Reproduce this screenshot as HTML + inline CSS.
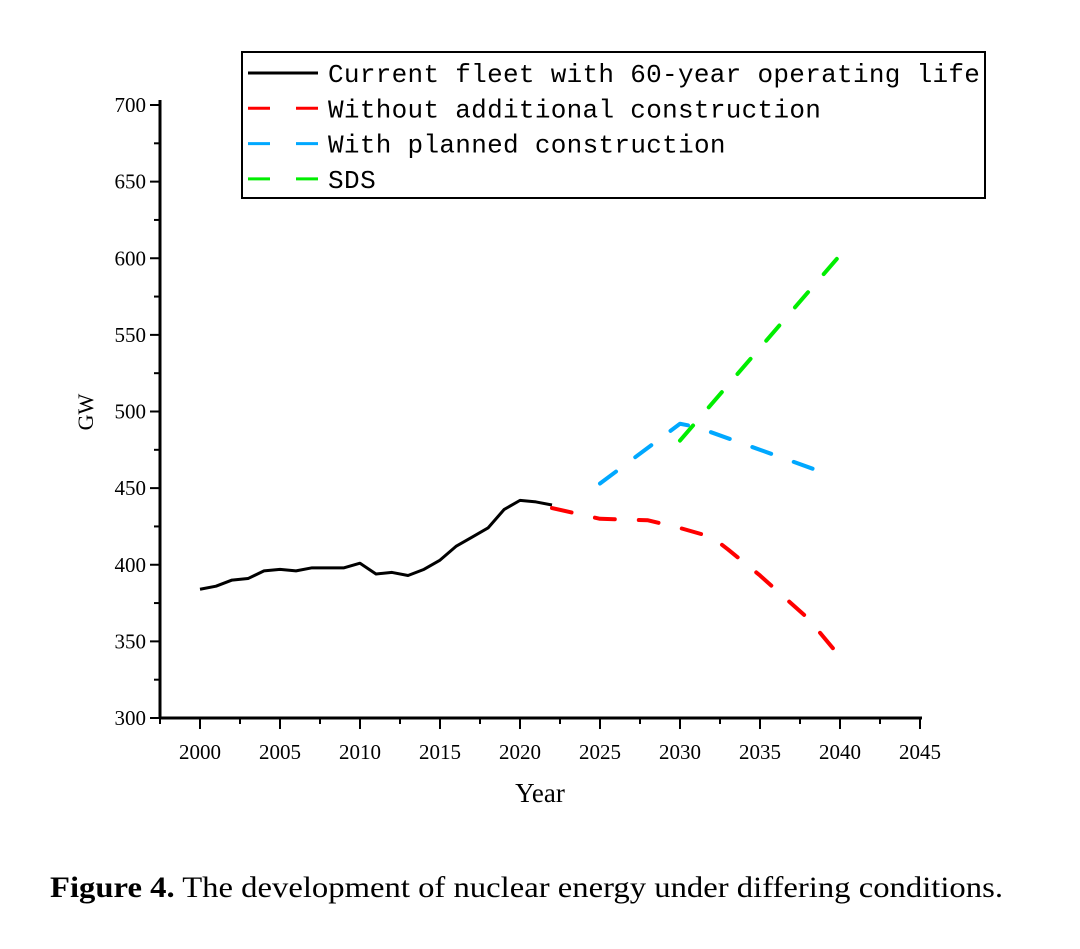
<!DOCTYPE html>
<html><head><meta charset="utf-8"><style>
body{margin:0;background:#fff;width:1080px;height:944px;overflow:hidden}
svg text{font-family:"Liberation Serif",serif}
</style></head><body>
<svg width="1080" height="944">
<g id="axes"></g>
<g id="marks"></g>
<rect x="242" y="52" width="743" height="146" fill="none" stroke="#000" stroke-width="2"/>
<g id="legend"></g>
<text x="93" y="412" font-size="22" text-anchor="middle" transform="rotate(-90 93 412)">GW</text>
<text x="540" y="802" font-size="27" text-anchor="middle">Year</text>
<text x="50" y="897" font-size="30" textLength="953" lengthAdjust="spacingAndGlyphs"><tspan font-weight="bold">Figure 4.</tspan> The development of nuclear energy under differing conditions.</text>
</svg>
<script>
const xTicks=[2000,2005,2010,2015,2020,2025,2030,2035,2040,2045];
const yTicks=[300,350,400,450,500,550,600,650,700];
const fleetYears=[2000,2001,2002,2003,2004,2005,2006,2007,2008,2009,2010,2011,2012,2013,2014,2015,2016,2017,2018,2019,2020,2021,2022];
const fleetValues=[384,386,390,391,396,397,396,398,398,398,401,394,395,393,397,403,412,418,424,436,442,441,439];
const noBuildYears=[2022,2025,2028,2030,2032,2033,2035,2038,2040];
const noBuildValues=[437,430,429,424,418,410,393,365,340];
const plannedYears=[2025,2030,2031,2039];
const plannedValues=[453,492,490,460];
const sdsYears=[2030,2040];
const sdsValues=[481,602];
const seriesNames=["Current fleet with 60-year operating life","Without additional construction","With planned construction","SDS"];
const seriesColors=["#000","#ff0000","#00a8ff","#00ee00"];
const NS="http://www.w3.org/2000/svg";
const X=v=>200+(v-2000)*16;
const Y=v=>718-(v-300)*1.5325;
function mk(t,a,p){const e=document.createElementNS(NS,t);for(const k in a)e.setAttribute(k,a[k]);p.appendChild(e);return e;}
const ax=document.getElementById('axes');
let l=mk('line',{x1:160,y1:100,x2:160,y2:719,stroke:'#000','stroke-width':3},ax);


l=mk('line',{x1:159,y1:718,x2:922,y2:718,stroke:'#000','stroke-width':3},ax);


yTicks.forEach(v=>{
 mk('line',{x1:150,y1:Y(v),x2:160,y2:Y(v),stroke:'#000','stroke-width':2},ax);
 if(v<700) mk('line',{x1:154,y1:Y(v+25),x2:160,y2:Y(v+25),stroke:'#000','stroke-width':2},ax);
 const t=mk('text',{x:146,y:Y(v)+7,'font-size':21,'text-anchor':'end'},ax);t.textContent=v;
 
 
});
xTicks.forEach(v=>{
 mk('line',{x1:X(v),y1:718,x2:X(v),y2:729,stroke:'#000','stroke-width':2},ax);
 mk('line',{x1:X(v)-40,y1:718,x2:X(v)-40,y2:724,stroke:'#000','stroke-width':2},ax);
 const t=mk('text',{x:X(v),y:759,'font-size':21,'text-anchor':'middle'},ax);t.textContent=v;
 
 
});
const mg=document.getElementById('marks');
function line(xs,ys,c,dash,name){
 const p=mk('polyline',{points:xs.map((x,i)=>X(x)+','+Y(ys[i])).join(' '),fill:'none',stroke:c,'stroke-width':dash?4:3,'stroke-linecap':dash?'round':'butt','stroke-linejoin':'round'},mg);
 if(dash)p.setAttribute('stroke-dasharray','20 24');
 
 
}
line(fleetYears,fleetValues,seriesColors[0],false,'current-fleet-line');
line(noBuildYears,noBuildValues,seriesColors[1],true,'no-construction-line');
line(plannedYears,plannedValues,seriesColors[2],true,'planned-construction-line');
line(sdsYears,sdsValues,seriesColors[3],true,'sds-line');
const lg=document.getElementById('legend');
seriesNames.forEach((n,i)=>{
 const y=73+i*35.3;
 const g=mk('g',{},lg);
 
 
 const s=mk('line',{x1:248,y1:y,x2:318,y2:y,stroke:seriesColors[i],'stroke-width':3},g);
 if(i>0)s.setAttribute('stroke-dasharray','22 26');
 const t=mk('text',{x:328,y:y+9,'font-size':26,style:'font-family:"Liberation Mono",monospace'},g);
 t.textContent=n;
 t.setAttribute('textLength',n.length*15.9);
});
</script>
</body></html>
